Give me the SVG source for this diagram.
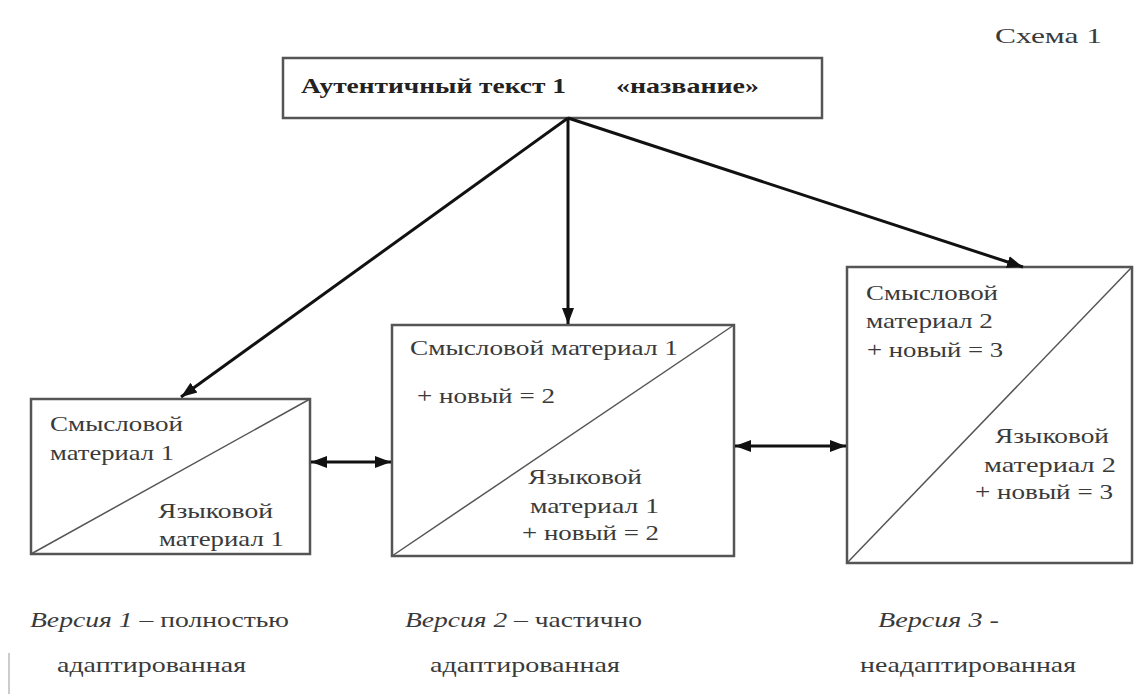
<svg xmlns="http://www.w3.org/2000/svg" width="1138" height="694" viewBox="0 0 1138 694">
<style>
.box{fill:#fff;stroke:#555;stroke-width:2.5}
.diag{stroke:#555;stroke-width:1.5;fill:none}
.t{font-family:"Liberation Serif","Times New Roman",serif;font-size:21px;fill:#3a3a3a}
.b{font-weight:bold;fill:#222}
.conn{stroke:#111;stroke-width:3;fill:none}
.it{font-style:italic}
</style>
<defs>
<marker id="ah" markerUnits="userSpaceOnUse" markerWidth="18" markerHeight="14" refX="16" refY="7" orient="auto-start-reverse">
<path d="M0,1 L16,7 L0,13 Z" fill="#111"/>
</marker>
</defs>
<rect x="0" y="0" width="1138" height="694" fill="#fff"/>
<line x1="9" y1="653" x2="9" y2="694" stroke="#999" stroke-width="1"/>
<text class="t" x="995" y="43" textLength="107" lengthAdjust="spacingAndGlyphs">Схема 1</text>

<g id="top">
<rect class="box" x="283" y="58" width="539" height="60"/>
<text class="t b" x="301" y="93" font-size="20" textLength="265" lengthAdjust="spacingAndGlyphs">Аутентичный текст 1</text>
<text class="t b" x="616" y="93" font-size="20" textLength="143" lengthAdjust="spacingAndGlyphs">«название»</text>
</g>

<g id="version1">
<rect class="box" x="31" y="399" width="279" height="155"/>
<line class="diag" x1="31" y1="554" x2="310" y2="399"/>
<text class="t" x="50" y="431" textLength="133" lengthAdjust="spacingAndGlyphs">Смысловой</text>
<text class="t" x="50" y="460" textLength="124" lengthAdjust="spacingAndGlyphs">материал 1</text>
<text class="t" x="158" y="518" textLength="115" lengthAdjust="spacingAndGlyphs">Языковой</text>
<text class="t" x="159" y="546" textLength="125" lengthAdjust="spacingAndGlyphs">материал 1</text>
</g>

<g id="version2">
<rect class="box" x="392" y="325" width="342" height="231"/>
<line class="diag" x1="392" y1="556" x2="734" y2="325"/>
<text class="t" x="410" y="355" textLength="268" lengthAdjust="spacingAndGlyphs">Смысловой материал 1</text>
<text class="t" x="417" y="403" textLength="138" lengthAdjust="spacingAndGlyphs">+ новый = 2</text>
<text class="t" x="528" y="484" textLength="114" lengthAdjust="spacingAndGlyphs">Языковой</text>
<text class="t" x="530" y="513" textLength="129" lengthAdjust="spacingAndGlyphs">материал  1</text>
<text class="t" x="522" y="540" textLength="137" lengthAdjust="spacingAndGlyphs">+ новый = 2</text>
</g>

<g id="version3">
<rect class="box" x="847" y="267" width="285" height="296"/>
<line class="diag" x1="847" y1="563" x2="1132" y2="267"/>
<text class="t" x="866" y="300" textLength="132" lengthAdjust="spacingAndGlyphs">Смысловой</text>
<text class="t" x="866" y="328" textLength="127" lengthAdjust="spacingAndGlyphs">материал 2</text>
<text class="t" x="867" y="357" textLength="136" lengthAdjust="spacingAndGlyphs">+ новый = 3</text>
<text class="t" x="995" y="443" textLength="114" lengthAdjust="spacingAndGlyphs">Языковой</text>
<text class="t" x="984" y="472" textLength="132" lengthAdjust="spacingAndGlyphs">материал  2</text>
<text class="t" x="975" y="499" textLength="138" lengthAdjust="spacingAndGlyphs">+ новый = 3</text>
</g>

<g id="connectors">
<line class="conn" x1="568" y1="118" x2="181" y2="397" marker-end="url(#ah)"/>
<line class="conn" x1="568" y1="118" x2="568" y2="324" marker-end="url(#ah)"/>
<line class="conn" x1="568" y1="118" x2="1023" y2="267" marker-end="url(#ah)"/>
<line class="conn" x1="311" y1="462" x2="391" y2="462" marker-start="url(#ah)" marker-end="url(#ah)"/>
<line class="conn" x1="735" y1="446" x2="846" y2="446" marker-start="url(#ah)" marker-end="url(#ah)"/>
</g>

<g id="labels">
<text class="t" x="30" y="627" font-size="20" textLength="259" lengthAdjust="spacingAndGlyphs"><tspan class="it">Версия 1</tspan> – полностью</text>
<text class="t" x="57" y="672" font-size="20" textLength="189" lengthAdjust="spacingAndGlyphs">адаптированная</text>
<text class="t" x="405" y="627" font-size="20" textLength="237" lengthAdjust="spacingAndGlyphs"><tspan class="it">Версия 2</tspan> – частично</text>
<text class="t" x="430" y="672" font-size="20" textLength="190" lengthAdjust="spacingAndGlyphs">адаптированная</text>
<text class="t" x="878" y="627" font-size="20" textLength="121" lengthAdjust="spacingAndGlyphs"><tspan class="it">Версия 3</tspan> -</text>
<text class="t" x="860" y="672" font-size="20" textLength="216" lengthAdjust="spacingAndGlyphs">неадаптированная</text>
</g>
</svg>
